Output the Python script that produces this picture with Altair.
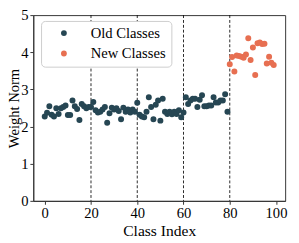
import altair as alt
import pandas as pd

old_idx = list(range(80))
old_vals = [2.27, 2.37, 2.55, 2.32, 2.27, 2.49, 2.34, 2.49, 2.53, 2.57,
            2.31, 2.31, 2.70, 2.55, 2.47, 2.18, 2.61, 2.55, 2.49, 2.53,
            2.53, 2.66, 2.44, 2.38, 2.40, 2.46, 2.53, 2.10, 2.36, 2.51,
            2.46, 2.49, 2.42, 2.20, 2.51, 2.40, 2.46, 2.38, 2.46, 2.40,
            2.64, 2.32, 2.27, 2.25, 2.40, 2.79, 2.53, 2.20, 2.59, 2.70,
            2.16, 2.75, 2.40, 2.34, 2.40, 2.33, 2.40, 2.34, 2.44, 2.25,
            2.38, 2.79, 2.61, 2.70, 2.75, 2.75, 2.53, 2.72, 2.84, 2.55,
            2.55, 2.57, 2.57, 2.79, 2.65, 2.65, 2.70, 2.70, 2.87, 2.40]
new_idx = list(range(80, 100))
new_vals = [3.68, 3.87, 3.48, 3.91, 3.90, 3.88, 3.85, 3.94, 4.38, 3.79,
            4.13, 3.39, 4.24, 4.26, 4.22, 4.23, 3.70, 3.88, 3.72, 3.66]
groups = ["Old Classes", "New Classes"]
colors = ["#264653", "#e76f51"]
boundaries = [20, 40, 60, 80]
x_ticks = [0, 20, 40, 60, 80, 100]
y_ticks = [0, 1, 2, 3, 4, 5]

W, H = 259, 191

df = pd.DataFrame({
    "idx": old_idx + new_idx,
    "val": old_vals + new_vals,
    "group": [groups[0]] * len(old_idx) + [groups[1]] * len(new_idx),
})
bdf = pd.DataFrame({"b": boundaries})

x_scale = alt.Scale(domain=[-4.95, 103.95], nice=False, zero=False)
y_scale = alt.Scale(domain=[0, 5], nice=False)
x_axis = alt.Axis(values=x_ticks, title="Class Index", titlePadding=2)
y_axis = alt.Axis(values=y_ticks, title="Weight Norm", titleX=-20, titleY=H / 2,
                  titleAngle=270, titleBaseline="middle", titleAlign="center",
                  titleFontSize=15)

rules = alt.Chart(bdf).mark_rule(
    color="black", strokeDash=[3, 2], strokeWidth=1, opacity=0.85
).encode(x=alt.X("b:Q", scale=x_scale, axis=x_axis))

points = alt.Chart(df).mark_circle(size=38, opacity=1).encode(
    x=alt.X("idx:Q", scale=x_scale, axis=x_axis),
    y=alt.Y("val:Q", scale=y_scale, axis=y_axis),
    color=alt.Color(
        "group:N",
        scale=alt.Scale(domain=groups, range=colors),
        legend=alt.Legend(
            title=None, orient="none", legendX=8, legendY=6,
            fillColor="white", strokeColor="#cccccc", cornerRadius=4,
            padding=5, symbolOffset=11, labelOffset=20, rowPadding=5,
            symbolSize=36, symbolType="circle", labelFontSize=15,
            labelColor="black", symbolOpacity=1,
        ),
    ),
)

chart = alt.layer(rules, points).properties(
    width=W, height=H,
    autosize=alt.AutoSizeParams(type="none"),
    padding={"left": 26, "top": 4, "right": 6, "bottom": 40},
).configure(
    font="Liberation Serif",
).configure_axis(
    labelFontSize=15, titleFontSize=16, labelColor="black", titleColor="black",
    titleFontWeight="normal", domainColor="#333333", tickColor="#333333",
    tickSize=3.5, grid=False, labelPadding=2, titlePadding=3,
    labelFont="Liberation Serif", titleFont="Liberation Serif",
).configure_view(
    stroke="#333333", strokeWidth=1,
).configure_legend(
    labelFont="Liberation Serif",
)

chart.save("out.html", embed_options={"renderer": "svg", "actions": False})
